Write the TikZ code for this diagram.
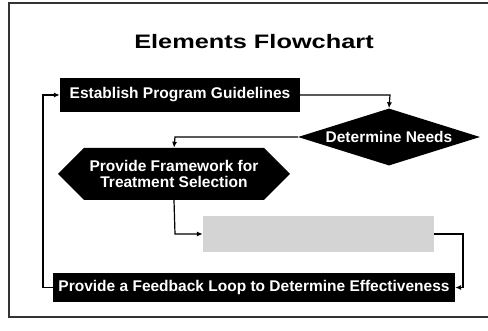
\documentclass[tikz,border=0pt]{standalone}
\usepackage{fontspec}
\setmainfont{Liberation Sans}
\newfontfamily\titlefont[FakeStretch=1.3]{Liberation Sans}
\usetikzlibrary{arrows.meta,shapes.geometric,shapes.symbols}

\begin{document}
\begin{tikzpicture}[x=1pt,y=-1pt,
        darkbox/.style={fill=black,text=white,inner sep=0pt,font=\bfseries\fontsize{15.5}{17}\selectfont},
        link/.style={line width=1.2pt},
        tip/.style={link,-{Latex[length=6pt,width=5pt]}}]
            \useasboundingbox (0,0) rectangle (488,331);
            \draw[line width=1.3pt,black!80] (490,3) -- (9,3) -- (9,317) -- (490,317);
            \node (title) at (254,42) {\titlefont\bfseries\fontsize{19.5}{22}\selectfont Elements Flowchart};
            \node (est) at (180,95) [darkbox,minimum width=240,minimum height=34] {Establish Program Guidelines};
            \node (need) at (389,137) [darkbox,diamond,aspect=3.2,minimum width=182,minimum height=57] {Determine Needs};
            \node (frame) at (174,174) [darkbox,signal,signal to=west and east,signal pointer angle=90,
                minimum width=232,minimum height=52,align=center] {Provide Framework for\\[-1pt]Treatment Selection};
            \node (grey) at (318.5,234) [fill=black!17,minimum width=231,minimum height=36,inner sep=0pt] {};
            \node (loop) at (254,287.5) [darkbox,minimum width=402,minimum height=29] {Provide a Feedback Loop to Determine Effectiveness};
            \coordinate (c1) at (390,95);
            \coordinate (c2) at (175,137);
            \coordinate (c3) at (175,234);
            \coordinate (c4) at (463,234);
            \coordinate (c5) at (463,287.5);
            \coordinate (c6) at (43,287.5);
            \coordinate (c7) at (43,95);
            \draw[tip] (est.east) -- (c1) -- (need.north);
            \draw[tip] (need.west) -- (c2) -- (frame.north);
            \draw[tip] (frame.south) -- (c3) -- (grey.west);
            \draw[tip] (grey.east) -- (c4) -- (c5) -- (loop.east);
            \draw[tip] (loop.west) -- (c6) -- (c7) -- (est.west);
        \end{tikzpicture}
\end{document}
